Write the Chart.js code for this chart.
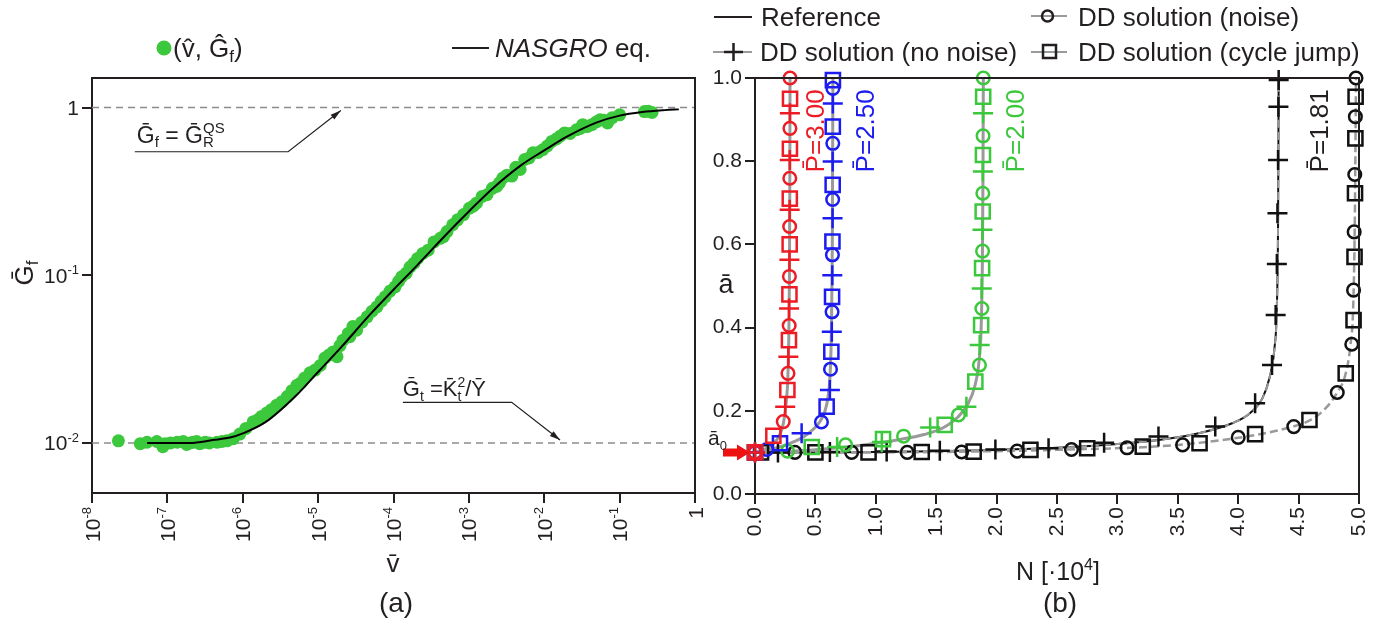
<!DOCTYPE html>
<html>
<head>
<meta charset="utf-8">
<script src="https://cdn.jsdelivr.net/npm/chart.js@4.4.1/dist/chart.umd.min.js"></script>
<style>
  html, body { margin: 0; padding: 0; background: #fff; }
  #wrap { position: relative; width: 1385px; height: 623px; overflow: hidden; }
  #chartA { position: absolute; left: 0; top: 0; }
  #chartB { position: absolute; left: 700px; top: 0; }
</style>
</head>
<body>
<div id="wrap">
  <canvas id="chartA" width="730" height="623"></canvas>
  <canvas id="chartB" width="685" height="623"></canvas>
</div>
<script>
const FONT = "'Liberation Sans', Arial, Helvetica, sans-serif";
const INK = '#231f20';
const GREEN = '#3cc83c';

// ---------- panel (a): crack growth rate curve ----------
const xTicksA = [1e-8, 1e-7, 1e-6, 1e-5, 1e-4, 1e-3, 1e-2, 1e-1, 1];
const xTickLabelsA = ['10^-8', '10^-7', '10^-6', '10^-5', '10^-4', '10^-3', '10^-2', '10^-1', '1'];
const yTicksA = [0.01, 0.1, 1];
const yTickLabelsA = ['10^-2', '10^-1', '1'];
const limitLevels = [1, 0.01];

// NASGRO eq. curve
const nasgroV = [5.4e-8, 1e-7, 2e-7, 4e-7, 7e-7, 1e-6, 2e-6, 5e-6, 1e-5, 2e-5, 5e-5, 1e-4, 2e-4,
                 5e-4, 1e-3, 2e-3, 5e-3, 1e-2, 2e-2, 5e-2, 1e-1, 2e-1, 4e-1, 6.1e-1];
const nasgroG = [0.0100, 0.0100, 0.0100, 0.0104, 0.0108, 0.0114, 0.0133, 0.0190, 0.0265, 0.0370,
                 0.0590, 0.0820, 0.1130, 0.1750, 0.2400, 0.3250, 0.4550, 0.5550, 0.6700, 0.8150,
                 0.8950, 0.9400, 0.9650, 0.9750];

// identified points (v̂, Ĝf)
const sampleV = [
    2.24e-8, 4.37e-8, 5.37e-8, 7.24e-8, 8.71e-8, 9.33e-8, 1.1e-7, 1.35e-7, 1.62e-7, 1.8e-7,
    2.0e-7, 2.2e-7, 2.45e-7, 2.69e-7, 3.16e-7, 3.6e-7, 4.57e-7, 5.3e-7, 6.17e-7, 7.5e-7,
    9.12e-7, 1.1e-6, 1.38e-6, 1.6e-6, 1.78e-6, 2.09e-6, 2.4e-6, 2.82e-6, 3.3e-6, 3.89e-6,
    4.5e-6, 5.25e-6, 5.9e-6, 6.61e-6, 7.8e-6, 9.12e-6, 1.07e-5, 1.23e-5, 1.4e-5, 1.58e-5,
    1.78e-5, 1.95e-5, 2.14e-5, 2.51e-5, 2.63e-5, 2.9e-5, 3.24e-5, 3.8e-5, 4.47e-5, 5.2e-5,
    6.03e-5, 6.9e-5, 7.76e-5, 9.0e-5, 1.05e-4, 1.17e-4, 1.29e-4, 1.48e-4, 1.66e-4, 1.87e-4,
    2.09e-4, 2.45e-4, 2.88e-4, 3.45e-4, 4.17e-4, 4.6e-4, 5.13e-4, 6.1e-4, 7.08e-4, 8.5e-4,
    1.02e-3, 1.14e-3, 1.26e-3, 1.5e-3, 1.74e-3, 2.05e-3, 2.34e-3, 2.55e-3, 2.82e-3, 3.2e-3,
    3.72e-3, 4.2e-3, 4.79e-3, 5.5e-3, 6.3e-3, 7.08e-3, 8.3e-3, 9.55e-3, 1.1e-2, 1.26e-2,
    1.45e-2, 1.62e-2, 1.86e-2, 2.2e-2, 2.69e-2, 3.0e-2, 3.24e-2, 3.7e-2, 4.27e-2, 4.9e-2,
    5.5e-2, 6.2e-2, 6.92e-2, 8.0e-2, 0.1, 0.214, 0.24, 0.269];
const sampleG = [
    0.0103, 0.0099, 0.0101, 0.0102, 0.0095, 0.0099, 0.0100, 0.0101, 0.0102, 0.0098,
    0.0100, 0.0101, 0.0102, 0.0099, 0.0101, 0.0100, 0.0101, 0.0102, 0.0103, 0.0106,
    0.0113, 0.0122, 0.0134, 0.0138, 0.0144, 0.0151, 0.0158, 0.0168, 0.0176, 0.0189,
    0.0205, 0.0221, 0.0228, 0.0244, 0.0262, 0.0272, 0.0290, 0.0321, 0.0335, 0.0349,
    0.0327, 0.0380, 0.0410, 0.0450, 0.0430, 0.0495, 0.0470, 0.0525, 0.0565, 0.0610,
    0.0648, 0.0700, 0.0744, 0.0805, 0.0853, 0.0920, 0.0980, 0.1030, 0.1120, 0.1180,
    0.1260, 0.1350, 0.1410, 0.1580, 0.1660, 0.1700, 0.1820, 0.2000, 0.2140, 0.2300,
    0.2510, 0.2580, 0.2690, 0.2950, 0.3020, 0.3300, 0.3390, 0.3550, 0.3800, 0.3950,
    0.3900, 0.4400, 0.4270, 0.4900, 0.5000, 0.5370, 0.5400, 0.5600, 0.5900, 0.6280,
    0.6500, 0.6740, 0.7060, 0.7000, 0.7380, 0.7500, 0.7900, 0.7700, 0.7900, 0.8200,
    0.8450, 0.8400, 0.8100, 0.8700, 0.9050, 0.9460, 0.9500, 0.9340];

// ---------- panel (b): crack length vs cycles ----------
const pLabels = ['P\u0304=3.00', 'P\u0304=2.50', 'P\u0304=2.00', 'P\u0304=1.81'];
const pColors = ['#ed1c24', '#1c1cf0', '#3cc83c', '#111111'];
const pLabelN = [0.571, 0.985, 2.227, 4.743];
const pLabelA = [0.873, 0.873, 0.873, 0.873];

// P̄ = 3.00
const ref300N = [0, 0.08, 0.15, 0.20, 0.235, 0.258, 0.272, 0.280, 0.285, 0.288, 0.290];
const ref300A = [0.10, 0.108, 0.12, 0.14, 0.17, 0.22, 0.28, 0.38, 0.52, 0.72, 1.00];
const noNoise300N = [0.0, 0.25, 0.276, 0.282, 0.285, 0.287, 0.288, 0.289];
const noNoise300A = [0.10, 0.21, 0.33, 0.446, 0.563, 0.683, 0.803, 0.915];
const noise300N = [0.0, 0.234, 0.273, 0.283, 0.285, 0.287, 0.288, 0.289, 0.290];
const noise300A = [0.10, 0.174, 0.29, 0.405, 0.523, 0.643, 0.759, 0.879, 1.00];
const jump300N = [0.0, 0.152, 0.268, 0.281, 0.285, 0.287, 0.288, 0.289, 0.290];
const jump300A = [0.10, 0.14, 0.25, 0.37, 0.48, 0.60, 0.71, 0.83, 0.95];

// P̄ = 2.50
const ref250N = [0, 0.10, 0.20, 0.30, 0.40, 0.48, 0.54, 0.58, 0.605, 0.622, 0.633, 0.640, 0.645];
const ref250A = [0.10, 0.105, 0.113, 0.123, 0.137, 0.155, 0.175, 0.20, 0.235, 0.29, 0.40, 0.60, 1.00];
const noNoise250N = [0.0, 0.386, 0.62, 0.636, 0.640, 0.642, 0.643, 0.644];
const noNoise250A = [0.10, 0.146, 0.25, 0.39, 0.526, 0.663, 0.799, 0.939];
const noise250N = [0.0, 0.097, 0.55, 0.625, 0.638, 0.641, 0.643, 0.644, 0.645];
const noise250A = [0.10, 0.107, 0.173, 0.30, 0.438, 0.575, 0.708, 0.843, 0.975];
const jump250N = [0.0, 0.207, 0.593, 0.632, 0.638, 0.641, 0.643, 0.644, 0.645];
const jump250A = [0.10, 0.122, 0.21, 0.342, 0.474, 0.607, 0.743, 0.883, 0.995];

// P̄ = 2.00
const ref200N = [0, 0.30, 0.60, 0.90, 1.20, 1.40, 1.55, 1.68, 1.76, 1.82, 1.855, 1.872, 1.882, 1.887, 1.890];
const ref200A = [0.10, 0.103, 0.109, 0.118, 0.131, 0.143, 0.158, 0.185, 0.215, 0.26, 0.32, 0.40, 0.55, 0.75, 1.00];
const noNoise200N = [0.0, 0.68, 1.05, 1.45, 1.75, 1.860, 1.877, 1.883, 1.886, 1.888];
const noNoise200A = [0.10, 0.113, 0.125, 0.16, 0.21, 0.358, 0.494, 0.635, 0.775, 0.915];
const noise200N = [0.27, 0.75, 1.23, 1.684, 1.858, 1.878, 1.884, 1.886, 1.888, 1.890];
const noise200A = [0.103, 0.118, 0.139, 0.19, 0.31, 0.446, 0.584, 0.723, 0.861, 1.00];
const jump200N = [0.0, 0.47, 1.06, 1.57, 1.824, 1.872, 1.880, 1.885, 1.887, 1.889];
const jump200A = [0.10, 0.113, 0.132, 0.166, 0.27, 0.406, 0.543, 0.679, 0.815, 0.955];

// P̄ = 1.81
const ref181N = [0, 0.5, 1.0, 1.5, 2.0, 2.5, 3.0, 3.4, 3.7, 3.95, 4.1, 4.2, 4.26, 4.30, 4.32, 4.33, 4.335];
const ref181A = [0.10, 0.10, 0.101, 0.103, 0.106, 0.111, 0.12, 0.132, 0.148, 0.17, 0.195, 0.23, 0.28, 0.35, 0.45, 0.65, 1.00];
const noNoise181N = [0.19, 0.62, 1.09, 1.53, 1.99, 2.43, 2.89, 3.34, 3.81, 4.14, 4.28, 4.31, 4.32, 4.325, 4.33, 4.333, 4.335];
const noNoise181A = [0.10, 0.101, 0.102, 0.104, 0.107, 0.11, 0.123, 0.138, 0.162, 0.218, 0.31, 0.43, 0.553, 0.675, 0.803, 0.931, 0.995];
const noise181N = [0.33, 0.80, 1.26, 1.71, 2.17, 2.62, 3.08, 3.54, 4.00, 4.46, 4.82, 4.94, 4.955, 4.960, 4.965, 4.970, 4.975];
const noise181A = [0.10, 0.10, 0.10, 0.101, 0.103, 0.107, 0.111, 0.118, 0.136, 0.162, 0.244, 0.36, 0.49, 0.63, 0.768, 0.907, 1.00];
const jump181N = [0.05, 0.50, 0.94, 1.38, 1.81, 2.28, 2.75, 3.21, 3.68, 4.14, 4.59, 4.89, 4.955, 4.963, 4.967, 4.970, 4.972];
const jump181A = [0.10, 0.10, 0.10, 0.101, 0.102, 0.106, 0.11, 0.114, 0.122, 0.144, 0.178, 0.29, 0.418, 0.57, 0.723, 0.855, 0.955];
// gray dashed DD curve (noise / cycle jump) for P̄ = 1.81
const dd181N = [0, 1.0, 2.0, 2.6, 3.1, 3.5, 3.9, 4.2, 4.45, 4.6, 4.72, 4.82, 4.89, 4.93, 4.952, 4.965, 4.975];
const dd181A = [0.10, 0.10, 0.103, 0.107, 0.111, 0.118, 0.131, 0.145, 0.162, 0.178, 0.205, 0.244, 0.29, 0.36, 0.45, 0.65, 1.00];

const a0Level = 0.1;

// ---------- helpers ----------
const pts = (xs, ys) => xs.map((x, i) => ({ x, y: ys[i] }));

function rich(ctx, parts, x, y, size, align) {
    const pieces = parts.map(p => {
        const kind = p[1] || '';
        const small = kind.startsWith('su');
        const fs = small ? Math.round(size * 0.64) : size;
        const font = (kind === 'i' ? 'italic ' : '') + fs + 'px ' + FONT;
        ctx.font = font;
        const w = ctx.measureText(p[0]).width;
        const dy = kind.startsWith('sub') ? size * 0.2 : (kind === 'sup' ? -size * 0.42 : 0);
        return { t: p[0], font, w, dy, adv: kind === 'subN' ? 0 : w };
    });
    const total = pieces.reduce((s, p) => s + p.adv, 0);
    let cx = align === 'center' ? x - total / 2 : (align === 'right' ? x - total : x);
    ctx.textAlign = 'left';
    ctx.textBaseline = 'alphabetic';
    pieces.forEach(p => { ctx.font = p.font; ctx.fillText(p.t, cx, y + p.dy); cx += p.adv; });
    return total;
}

// '10^-8' -> [['10'], ['-8', 'sup']]
const powParts = s => {
    const [b, e] = s.split('^');
    return e ? [[b], [e, 'sup']] : [[b]];
};

function arrowPath(ctx, points, head) {
    ctx.beginPath();
    ctx.moveTo(points[0][0], points[0][1]);
    points.slice(1).forEach(p => ctx.lineTo(p[0], p[1]));
    ctx.stroke();
    const [x1, y1] = points[points.length - 2];
    const [x2, y2] = points[points.length - 1];
    const ang = Math.atan2(y2 - y1, x2 - x1);
    ctx.beginPath();
    ctx.moveTo(x2, y2);
    ctx.lineTo(x2 - head * Math.cos(ang - 0.28), y2 - head * Math.sin(ang - 0.28));
    ctx.lineTo(x2 - head * Math.cos(ang + 0.28), y2 - head * Math.sin(ang + 0.28));
    ctx.closePath();
    ctx.fill();
}

function frame(chart) {
    const { ctx, chartArea: c } = chart;
    ctx.save();
    ctx.strokeStyle = INK;
    ctx.lineWidth = 2;
    ctx.beginPath();
    ctx.moveTo(c.left, c.top);
    ctx.lineTo(c.right, c.top);
    ctx.lineTo(c.right, c.bottom);
    ctx.stroke();
    ctx.restore();
}

Chart.defaults.font.family = FONT;
Chart.defaults.color = INK;
Chart.defaults.animation = false;
Chart.defaults.events = [];
Chart.defaults.plugins.legend.display = false;
Chart.defaults.plugins.tooltip.enabled = false;

const axisLook = {
    grid: { drawOnChartArea: false, color: INK, lineWidth: 2, tickLength: 10 },
    border: { display: true, color: INK, width: 2 }
};

// ---------- chart (a) ----------
const panelA = {
    id: 'panelA',
    beforeDatasetsDraw(chart) {
        const { ctx, chartArea: c, scales: { y } } = chart;
        ctx.save();
        ctx.strokeStyle = '#8c8c8c';
        ctx.lineWidth = 1.5;
        ctx.setLineDash([7, 5]);
        limitLevels.forEach(g => {
            const py = y.getPixelForValue(g);
            ctx.beginPath();
            ctx.moveTo(c.left, py);
            ctx.lineTo(c.right, py);
            ctx.stroke();
        });
        ctx.restore();
    },
    afterDraw(chart) {
        const { ctx, chartArea: c, scales: { x, y } } = chart;
        frame(chart);
        ctx.save();
        ctx.fillStyle = INK;
        ctx.strokeStyle = INK;

        // tick labels with real superscripts
        xTicksA.forEach((v, i) => {
            ctx.save();
            ctx.translate(x.getPixelForValue(v), c.bottom + 14);
            ctx.rotate(-Math.PI / 2);
            rich(ctx, powParts(xTickLabelsA[i]), 0, 7.5, 21, 'right');
            ctx.restore();
        });
        yTicksA.forEach((v, i) => {
            rich(ctx, powParts(yTickLabelsA[i]), c.left - 13, y.getPixelForValue(v) + 7.5, 21, 'right');
        });

        ctx.lineWidth = 1.2;
        // annotation Ḡf = Ḡ_R^QS
        const t1 = [[x.getPixelForValue(3.7e-8), y.getPixelForValue(0.545)],
                    [x.getPixelForValue(4.0e-6), y.getPixelForValue(0.545)],
                    [x.getPixelForValue(2.0e-5), y.getPixelForValue(0.96)]];
        arrowPath(ctx, t1, 11);
        rich(ctx, [['G\u0304'], ['f', 'sub'], [' = G\u0304'], ['R', 'subN'], ['QS', 'sup']],
             t1[0][0] + 2, t1[0][1] - 9, 23, 'left');

        // annotation Ḡt = K̄t²/Ȳ
        const t2 = [[x.getPixelForValue(1.33e-4), y.getPixelForValue(0.01746)],
                    [x.getPixelForValue(3.7e-3), y.getPixelForValue(0.01746)],
                    [x.getPixelForValue(1.62e-2), y.getPixelForValue(0.0104)]];
        arrowPath(ctx, t2, 11);
        rich(ctx, [['G\u0304'], ['t', 'sub'], [' =K\u0304'], ['t', 'subN'], ['2', 'sup'], ['/\u0232']],
             t2[0][0], t2[0][1] - 6, 22, 'left');

        // legend
        ctx.fillStyle = GREEN;
        ctx.beginPath();
        ctx.arc(164, 48, 7.5, 0, Math.PI * 2);
        ctx.fill();
        ctx.fillStyle = INK;
        rich(ctx, [['(v\u0302, \u011C'], ['f', 'sub'], [')']], 173, 57, 26, 'left');
        ctx.lineWidth = 2;
        ctx.beginPath();
        ctx.moveTo(452, 48);
        ctx.lineTo(489, 48);
        ctx.stroke();
        rich(ctx, [['NASGRO', 'i'], [' eq.']], 495, 57, 26, 'left');

        // axis titles + caption
        rich(ctx, [['v\u0304']], 393, 572, 26, 'center');
        rich(ctx, [['(a)']], 396, 612, 28, 'center');
        ctx.translate(33, 273);
        ctx.rotate(-Math.PI / 2);
        rich(ctx, [['G\u0304'], ['f', 'sub']], 0, 0, 26, 'center');
        ctx.restore();
    }
};

new Chart(document.getElementById('chartA'), {
    type: 'scatter',
    data: {
        datasets: [
            {
                label: 'NASGRO eq.',
                data: pts(nasgroV, nasgroG),
                showLine: true,
                borderColor: '#000',
                borderWidth: 2,
                pointRadius: 0,
                cubicInterpolationMode: 'monotone',
                order: 0
            },
            {
                label: '(v̂, Ĝf)',
                data: pts(sampleV, sampleG),
                pointRadius: 6.5,
                pointBackgroundColor: GREEN,
                pointBorderWidth: 0,
                clip: false,
                order: 1
            }
        ]
    },
    options: {
        responsive: false,
        devicePixelRatio: 1,
        layout: { autoPadding: false, padding: { top: 78, right: 35, left: 0, bottom: 0 } },
        scales: {
            x: {
                type: 'logarithmic',
                min: 1e-8,
                max: 1,
                ...axisLook,
                afterBuildTicks: s => { s.ticks = xTicksA.map(v => ({ value: v })); },
                afterFit: s => { s.height = 130; s.paddingLeft = 0; s.paddingRight = 0; },
                ticks: { display: false, autoSkip: false }
            },
            y: {
                type: 'logarithmic',
                min: 0.00503,
                max: 1.5,
                ...axisLook,
                afterBuildTicks: s => { s.ticks = yTicksA.map(v => ({ value: v })); },
                afterFit: s => { s.width = 92; s.paddingTop = 0; s.paddingBottom = 0; },
                ticks: { display: false }
            }
        }
    },
    plugins: [panelA]
});

// ---------- chart (b) ----------
const GRAY = '#9a9a9a';

function lineSet(label, xs, ys, color, width, dash, order) {
    return {
        label, data: pts(xs, ys), showLine: true, borderColor: color, borderWidth: width,
        borderDash: dash, pointRadius: 0, cubicInterpolationMode: 'monotone', clip: false, order
    };
}
function markSet(label, xs, ys, color, style, radius) {
    return {
        label, data: pts(xs, ys), showLine: false, pointStyle: style, pointRadius: radius,
        pointBorderColor: color, pointBackgroundColor: 'rgba(0,0,0,0)', pointBorderWidth: 2.5,
        clip: false, order: 0
    };
}

const groups = [
    [ref300N, ref300A, noNoise300N, noNoise300A, noise300N, noise300A, jump300N, jump300A],
    [ref250N, ref250A, noNoise250N, noNoise250A, noise250N, noise250A, jump250N, jump250A],
    [ref200N, ref200A, noNoise200N, noNoise200A, noise200N, noise200A, jump200N, jump200A],
    [ref181N, ref181A, noNoise181N, noNoise181A, noise181N, noise181A, jump181N, jump181A]
];

const setsB = [];
groups.forEach((g, k) => {
    const col = pColors[k];
    const last = k === 3;
    setsB.push(markSet('DD solution (no noise) ' + pLabels[k], g[2], g[3], col, 'cross', 10));
    setsB.push(markSet('DD solution (noise) ' + pLabels[k], g[4], g[5], col, 'circle', 6.3));
    setsB.push(markSet('DD solution (cycle jump) ' + pLabels[k], g[6], g[7], col, 'rect', 10));
    if (last) {
        setsB.push(lineSet('DD line ' + pLabels[k], g[0], g[1], GRAY, 2, [8, 4], 1));
        setsB.push(lineSet('DD line noise ' + pLabels[k], dd181N, dd181A, GRAY, 2.5, [8, 4], 1));
    } else {
        setsB.push(lineSet('DD line ' + pLabels[k], g[0], g[1], GRAY, 3, [], 1));
    }
    setsB.push(lineSet('Reference ' + pLabels[k], g[0], g[1], col, last ? 2 : 1.5, [], 2));
});

const panelB = {
    id: 'panelB',
    afterDraw(chart) {
        const { ctx, scales: { x, y } } = chart;
        frame(chart);
        const ox = -700; // canvas offset from the page
        ctx.save();
        ctx.fillStyle = INK;
        ctx.strokeStyle = INK;

        // legend
        ctx.lineWidth = 2;
        ctx.beginPath(); ctx.moveTo(714 + ox, 17); ctx.lineTo(752 + ox, 17); ctx.stroke();
        rich(ctx, [['Reference']], 761 + ox, 26, 26, 'left');
        const grayLine = (x1, x2, yy) => {
            ctx.strokeStyle = GRAY; ctx.lineWidth = 2;
            ctx.beginPath(); ctx.moveTo(x1 + ox, yy); ctx.lineTo(x2 + ox, yy); ctx.stroke();
            ctx.strokeStyle = INK; ctx.lineWidth = 2.5;
        };
        grayLine(713, 752, 52);
        ctx.beginPath();
        ctx.moveTo(724 + ox, 52); ctx.lineTo(743 + ox, 52);
        ctx.moveTo(733.5 + ox, 43); ctx.lineTo(733.5 + ox, 61);
        ctx.stroke();
        rich(ctx, [['DD solution (no noise)']], 760 + ox, 61, 26, 'left');
        grayLine(1031, 1067, 16);
        ctx.beginPath(); ctx.arc(1047.5 + ox, 16, 5.5, 0, Math.PI * 2); ctx.stroke();
        rich(ctx, [['DD solution (noise)']], 1078 + ox, 26, 26, 'left');
        grayLine(1031, 1067, 52);
        ctx.strokeRect(1043 + ox, 45, 13, 13);
        rich(ctx, [['DD solution (cycle jump)']], 1078 + ox, 61, 26, 'left');

        // P̄ labels
        pLabels.forEach((t, k) => {
            ctx.save();
            ctx.fillStyle = pColors[k] === '#111111' ? INK : pColors[k];
            ctx.translate(x.getPixelForValue(pLabelN[k]), y.getPixelForValue(pLabelA[k]));
            ctx.rotate(-Math.PI / 2);
            rich(ctx, [[t]], 0, 0, 26, 'center');
            ctx.restore();
        });

        // ā0 marker
        const ya = y.getPixelForValue(a0Level);
        const xa = x.getPixelForValue(0);
        ctx.fillStyle = '#ee1111';
        ctx.beginPath();
        ctx.moveTo(xa - 5, ya);
        ctx.lineTo(xa - 18, ya - 8);
        ctx.lineTo(xa - 18, ya - 4);
        ctx.lineTo(xa - 32, ya - 4);
        ctx.lineTo(xa - 32, ya + 4);
        ctx.lineTo(xa - 18, ya + 4);
        ctx.lineTo(xa - 18, ya + 8);
        ctx.closePath();
        ctx.fill();
        ctx.fillStyle = INK;
        rich(ctx, [['\u0101'], ['0', 'sub']], 708 + ox, ya - 7, 21, 'left');

        // axis titles + caption
        rich(ctx, [['\u0101']], 726 + ox, 293, 27, 'center');
        rich(ctx, [['N [·10'], ['4', 'sup'], [']']], 1058 + ox, 580, 25, 'center');
        rich(ctx, [['(b)']], 1060 + ox, 612, 28, 'center');
        ctx.restore();
    }
};

new Chart(document.getElementById('chartB'), {
    type: 'scatter',
    data: { datasets: setsB },
    options: {
        responsive: false,
        devicePixelRatio: 1,
        layout: { autoPadding: false, padding: { top: 78, right: 26, left: 0, bottom: 0 } },
        scales: {
            x: {
                type: 'linear',
                min: 0,
                max: 5,
                ...axisLook,
                afterFit: s => { s.height = 129; s.paddingLeft = 0; s.paddingRight = 0; },
                ticks: {
                    stepSize: 0.5,
                    autoSkip: false,
                    minRotation: 90,
                    maxRotation: 90,
                    padding: 3,
                    font: { size: 21 },
                    color: INK,
                    callback: v => v.toFixed(1)
                }
            },
            y: {
                type: 'linear',
                min: 0,
                max: 1,
                ...axisLook,
                afterFit: s => { s.width = 55; s.paddingTop = 0; s.paddingBottom = 0; },
                ticks: {
                    stepSize: 0.2,
                    padding: 3,
                    font: { size: 21 },
                    color: INK,
                    callback: v => v.toFixed(1)
                }
            }
        }
    },
    plugins: [panelB]
});
</script>
</body>
</html>
